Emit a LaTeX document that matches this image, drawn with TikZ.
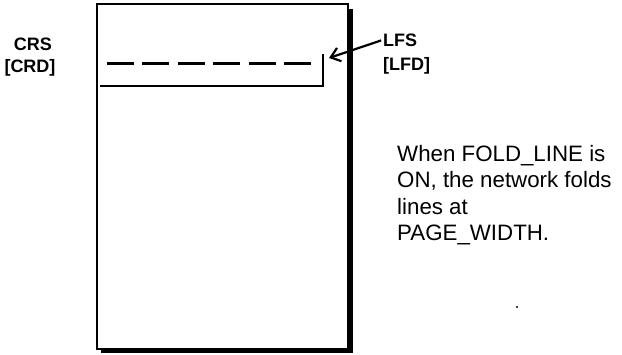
\documentclass[tikz,border=0pt]{standalone}
\usepackage{fontspec}
\setmainfont{Liberation Sans}
\usetikzlibrary{arrows.meta, positioning}

\begin{document}
\begin{tikzpicture}[x=1pt, y=-1pt,
  tag/.style={font=\fontsize{18}{20}\selectfont\bfseries, align=center, inner sep=0pt},
  note/.style={font=\fontsize{22.3}{26.5}\selectfont, align=left, inner sep=0pt},
  pointer/.style={-{Straight Barb[length=9pt,width=14pt,line width=2.2pt]}, line width=2.2pt},
  foldline/.style={line width=3pt, dash pattern=on 27pt off 8.4pt},
  wrapline/.style={line width=1.1pt}
]
\useasboundingbox (0,0) rectangle (622,354);

% --- The page and its shadow ---
\fill (101,9) rectangle (353,353);
\draw[fill=white, line width=1.1pt] (97,4) rectangle (348,349);

% --- Lines on the page ---
\draw[foldline] (107,63) -- (315,63);
\coordinate (tip) at (329,58);
\coordinate (edge) at (323,54);
\draw[wrapline] (100,86) -| (edge);

% --- Labels ---
\node[tag, anchor=base] (crs) at (33,50) {CRS};
\node[tag, anchor=base] (crd) at (30,72) {[CRD]};
\node[tag, anchor=base west] (lfs) at (383,46) {LFS};
\node[tag, anchor=base west] (lfd) at (383,70) {[LFD]};
\draw[pointer, shorten <=2pt] (lfs.west) -- (tip);

% --- Note ---
\node[note, anchor=north west] (fold) at (397,145) {When FOLD\_LINE is\\ON, the network folds\\lines at\\PAGE\_WIDTH.};
\fill (517,307) circle (1.2pt);

\end{tikzpicture}
\end{document}
